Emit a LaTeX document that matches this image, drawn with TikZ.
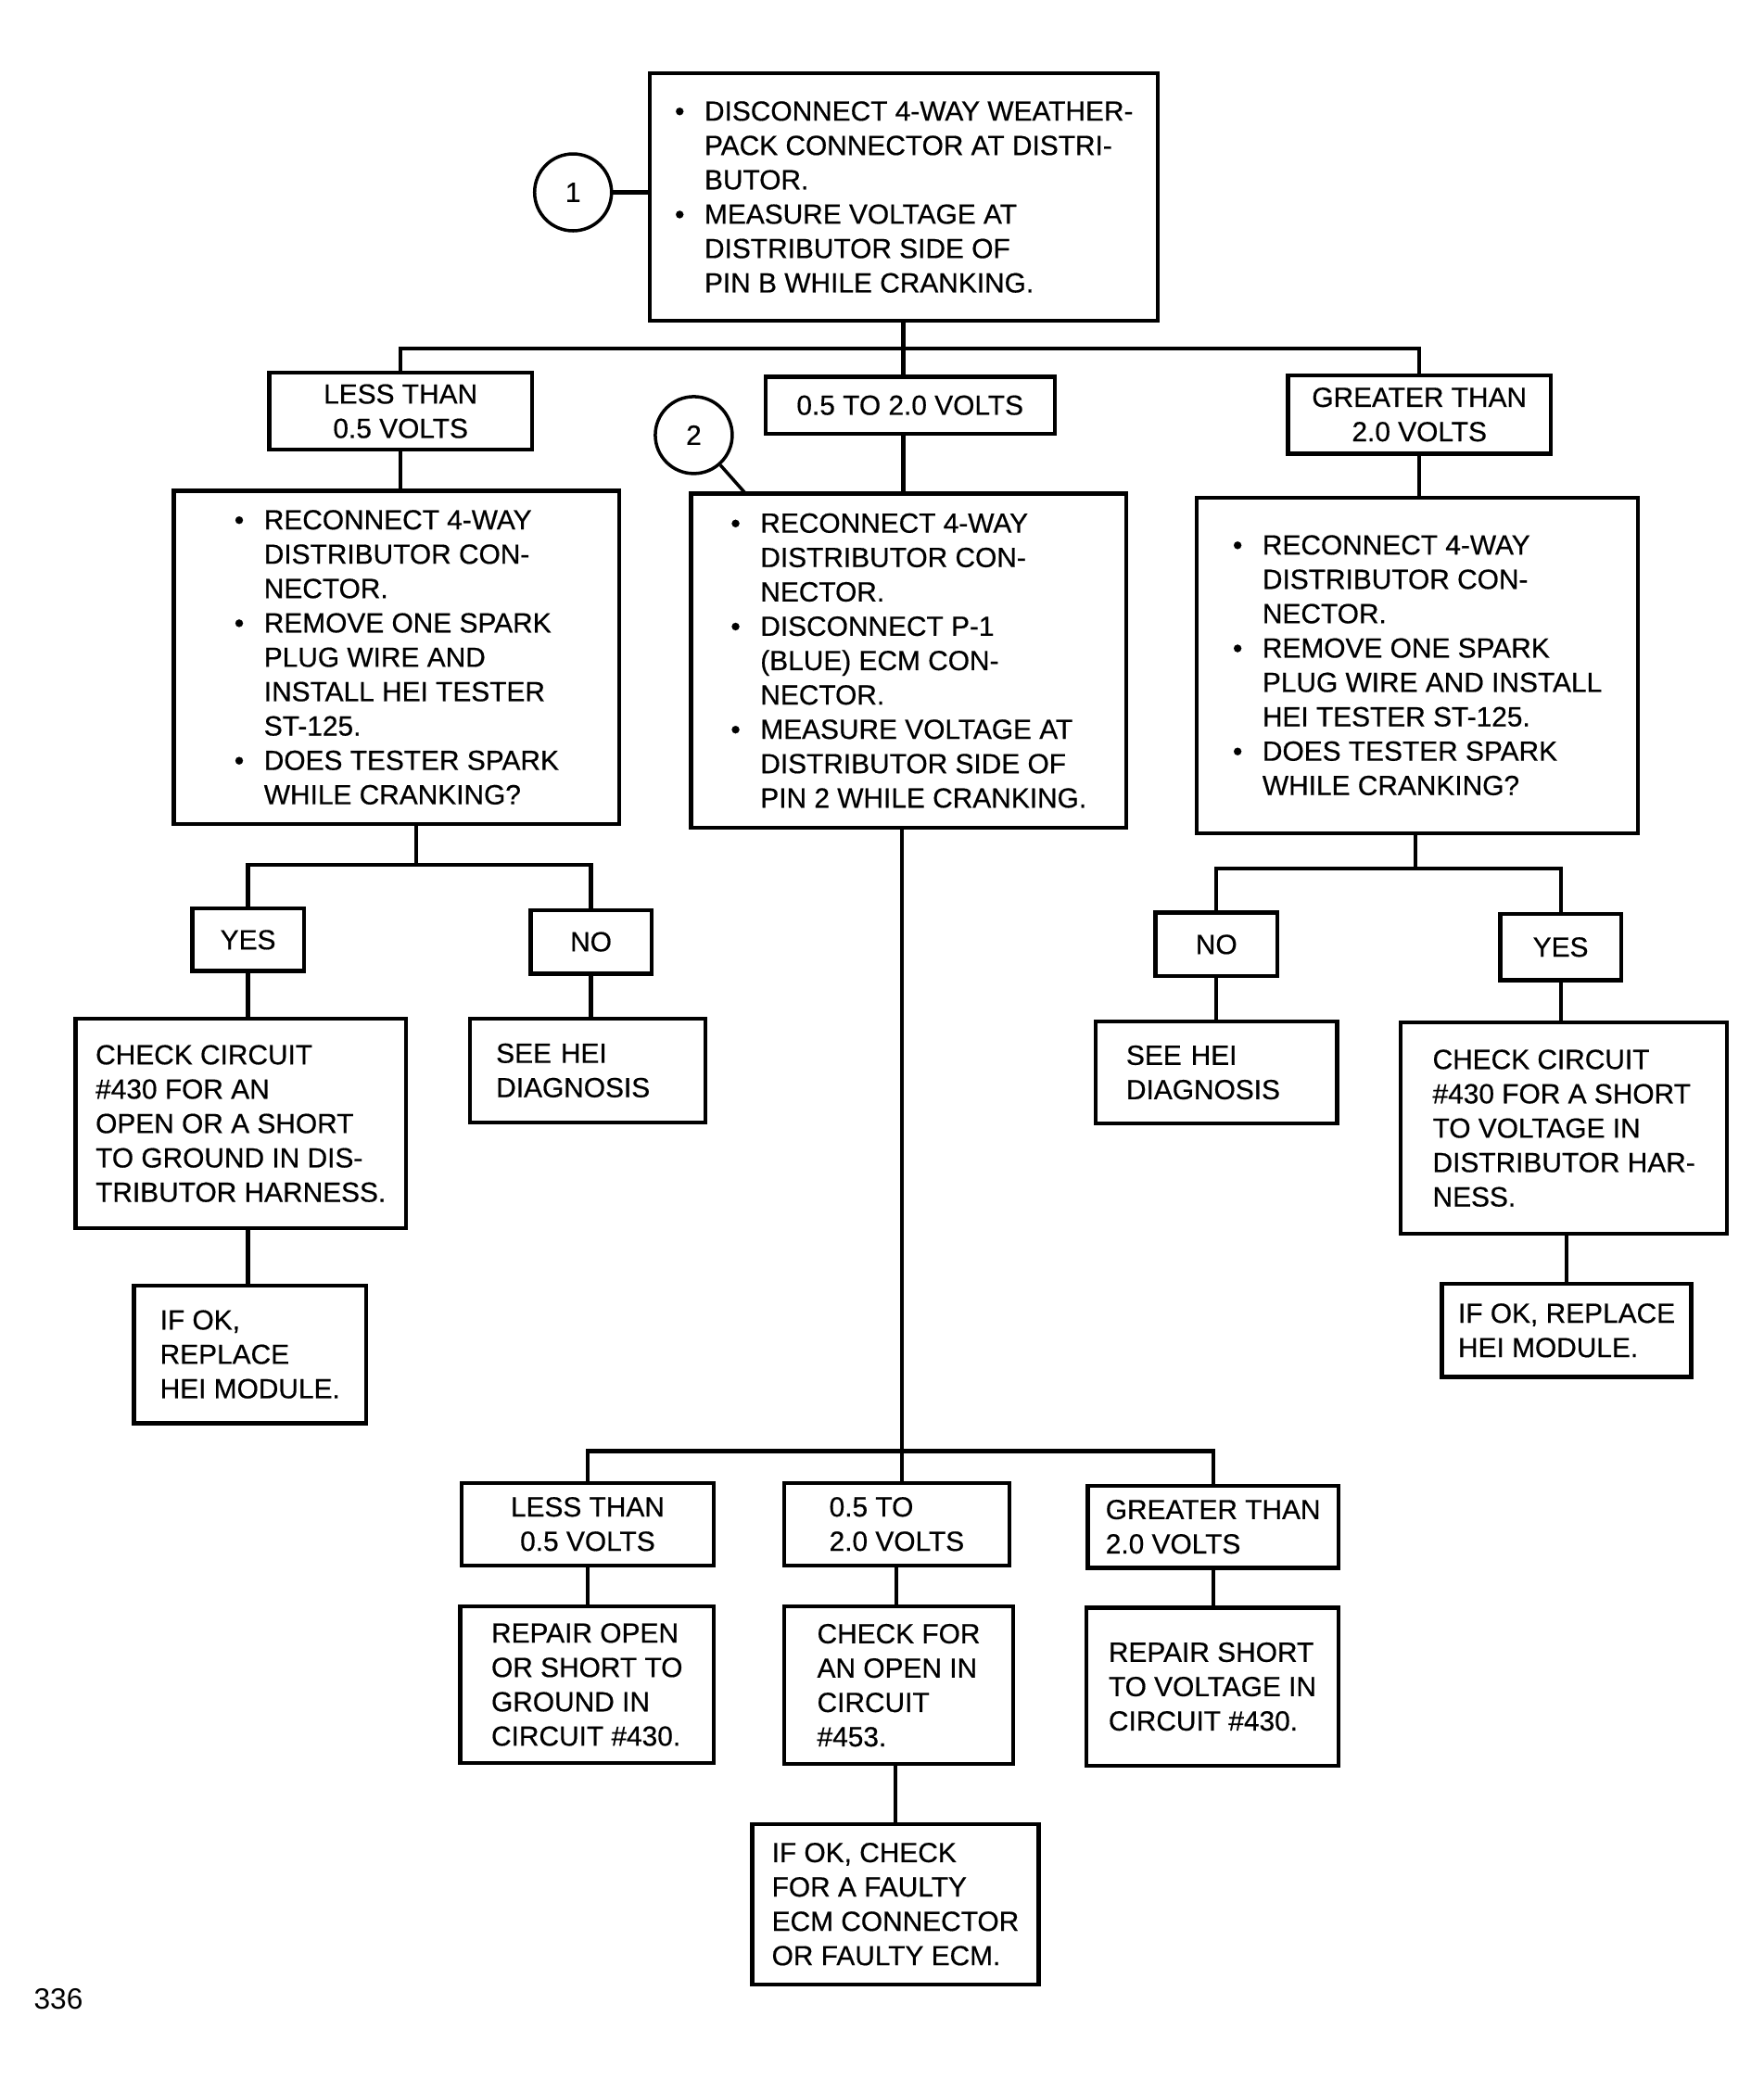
\documentclass[tikz,border=0pt]{standalone}
\usepackage{fontspec}
\setmainfont{Liberation Sans}
\newfontfamily\chartfont[FakeBold=0.5]{Liberation Sans}
\newcommand{\itm}{\makebox[0.32cm][l]{\textbullet}}
\newcommand{\cont}{\hspace*{0.32cm}}
\begin{document}
\begin{tikzpicture}[x=0.01431cm, y=-0.01431cm,
  box/.style={draw, line width=1.2pt, rectangle, align=left, inner sep=0pt,
    font=\chartfont\fontsize{8.5}{10.55}\selectfont},
  sz/.style 2 args={minimum width=#1cm, minimum height=#2cm},
  callout/.style={draw, line width=1pt, circle, minimum size=0.83cm, inner sep=0pt,
    font=\chartfont\fontsize{8.5}{10}\selectfont},
  link/.style={line width=1.2pt}]
\useasboundingbox (0,0) rectangle (1329.8,1568.1);

% first test
\node [box, sz={5.481}{2.676}] (start) at (681.5,148.5) {\itm DISCONNECT 4-WAY WEATHER-\\ \cont PACK CONNECTOR AT DISTRI-\\ \cont BUTOR.\\ \itm MEASURE VOLTAGE AT\\ \cont DISTRIBUTOR SIDE OF\\ \cont PIN B WHILE CRANKING.};
\node [callout] (c1) at (432,145) {1};
\draw [link] (c1) -- (c1 -| start.west);

% three readings
\node [box, sz={2.833}{0.830}, align=center] (lt) at (302,310) {LESS THAN\\0.5 VOLTS};
\node [box, sz={3.120}{0.615}, align=center] (mid) at (686,305.5) {0.5 TO 2.0 VOLTS};
\node [box, sz={2.833}{0.844}, align=center] (gt) at (1070,312.5) {GREATER THAN\\2.0 VOLTS};
\coordinate (bus) at (681,263);
\draw [link] (start.south -| bus) -- (bus);
\draw [link] (lt) |- (bus) -| (gt);
\draw [link] (bus) -- (bus |- mid.north);

\node [box, sz={4.808}{3.592}] (leftq) at (299,495.5) {\itm RECONNECT 4-WAY\\ \cont DISTRIBUTOR CON-\\ \cont NECTOR.\\ \itm REMOVE ONE SPARK\\ \cont PLUG WIRE AND\\ \cont INSTALL HEI TESTER\\ \cont ST-125.\\ \itm DOES TESTER SPARK\\ \cont WHILE CRANKING?};
\node [box, sz={4.694}{3.606}] (midq) at (685,498) {\itm RECONNECT 4-WAY\\ \cont DISTRIBUTOR CON-\\ \cont NECTOR.\\ \itm DISCONNECT P-1\\ \cont (BLUE) ECM CON-\\ \cont NECTOR.\\ \itm MEASURE VOLTAGE AT\\ \cont DISTRIBUTOR SIDE OF\\ \cont PIN 2 WHILE CRANKING.};
\node [box, sz={4.765}{3.620}] (gtq) at (1068.5,501.5) {\itm RECONNECT 4-WAY\\ \cont DISTRIBUTOR CON-\\ \cont NECTOR.\\ \itm REMOVE ONE SPARK\\ \cont PLUG WIRE AND INSTALL\\ \cont HEI TESTER ST-125.\\ \itm DOES TESTER SPARK\\ \cont WHILE CRANKING?};
\draw [link] (lt) -- (lt |- leftq.north);
\draw [link] (bus |- mid.south) -- (bus |- midq.north);
\draw [link] (gt) -- (gt |- gtq.north);
\node [callout] (c2) at (523,328) {2};
\coordinate (c2tip) at (562,372);
\draw [line width=1pt] (c2) -- (c2tip);

% less than 0.5 volts
\coordinate (jl) at (314,652);
\node [box, sz={1.202}{0.673}, align=center] (yesL) at (187,708.5) {YES};
\node [box, sz={1.302}{0.687}, align=center] (noL) at (445.5,710) {NO};
\draw [link] (leftq.south -| jl) -- (jl);
\draw [link] (yesL) |- (jl) -| (noL);
\node [box, sz={3.563}{2.261}] (chkL) at (181.5,847) {CHECK CIRCUIT\\\#430 FOR AN\\OPEN OR A SHORT\\TO GROUND IN DIS-\\TRIBUTOR HARNESS.};
\node [box, sz={2.547}{1.116}, text width=1.975cm, inner xsep=0.286cm] (seeL) at (443,807) {SEE HEI\\DIAGNOSIS};
\node [box, sz={2.504}{1.488}] (okL) at (188.5,1021) {IF OK,\\REPLACE\\HEI MODULE.};
\draw [link] (yesL) -- (yesL |- chkL.north);
\draw [link] (noL) -- (noL |- seeL.north);
\draw [link] (chkL.south -| yesL) -- (okL.north -| yesL);

% greater than 2.0 volts
\coordinate (jr) at (1067,655);
\node [box, sz={1.317}{0.687}, align=center] (noR) at (917,712) {NO};
\node [box, sz={1.302}{0.716}, align=center] (yesR) at (1176.5,714) {YES};
\draw [link] (gtq.south -| jr) -- (jr);
\draw [link] (noR) |- (jr) -| (yesR);
\node [box, sz={2.604}{1.102}, text width=1.946cm, inner xsep=0.329cm] (seeR) at (917,808.5) {SEE HEI\\DIAGNOSIS};
\node [box, sz={3.520}{2.275}] (chkR) at (1179,850.5) {CHECK CIRCUIT\\\#430 FOR A SHORT\\TO VOLTAGE IN\\DISTRIBUTOR HAR-\\NESS.};
\node [box, sz={2.690}{1.002}] (okR) at (1181,1003) {IF OK, REPLACE\\HEI MODULE.};
\draw [link] (noR) -- (noR |- seeR.north);
\draw [link] (yesR) -- (yesR |- chkR.north);
\draw [link] (chkR.south -| okR) -- (okR);

% 0.5 to 2.0 volts, second reading
\coordinate (jm) at (680,1094);
\node [box, sz={2.719}{0.887}, align=center] (lt2) at (443,1149) {LESS THAN\\0.5 VOLTS};
\node [box, sz={2.433}{0.887}] (mid2) at (676,1149) {0.5 TO\\2.0 VOLTS};
\node [box, sz={2.705}{0.887}] (gt2) at (914.5,1151) {GREATER THAN\\2.0 VOLTS};
\draw [link] (midq.south -| jm) -- (jm |- mid2.north);
\draw [link] (lt2) |- (jm) -| (gt2);
\node [box, sz={2.733}{1.689}] (repL) at (442.5,1270) {REPAIR OPEN\\OR SHORT TO\\GROUND IN\\CIRCUIT \#430.};
\node [box, sz={2.476}{1.703}] (chkM) at (677.5,1270.5) {CHECK FOR\\AN OPEN IN\\CIRCUIT\\\#453.};
\node [box, sz={2.719}{1.703}] (repR) at (914,1271.5) {REPAIR SHORT\\TO VOLTAGE IN\\CIRCUIT \#430.};
\node [box, sz={3.091}{1.732}] (okM) at (675,1435.5) {IF OK, CHECK\\FOR A FAULTY\\ECM CONNECTOR\\OR FAULTY ECM.};
\draw [link] (lt2) -- (lt2 |- repL.north);
\draw [link] (mid2) -- (mid2 |- chkM.north);
\draw [link] (gt2) -- (gt2 |- repR.north);
\draw [link] (chkM.south -| okM) -- (okM);

\node [font=\fontsize{9}{10}\selectfont] (page) at (44,1507) {336};
\end{tikzpicture}
\end{document}
